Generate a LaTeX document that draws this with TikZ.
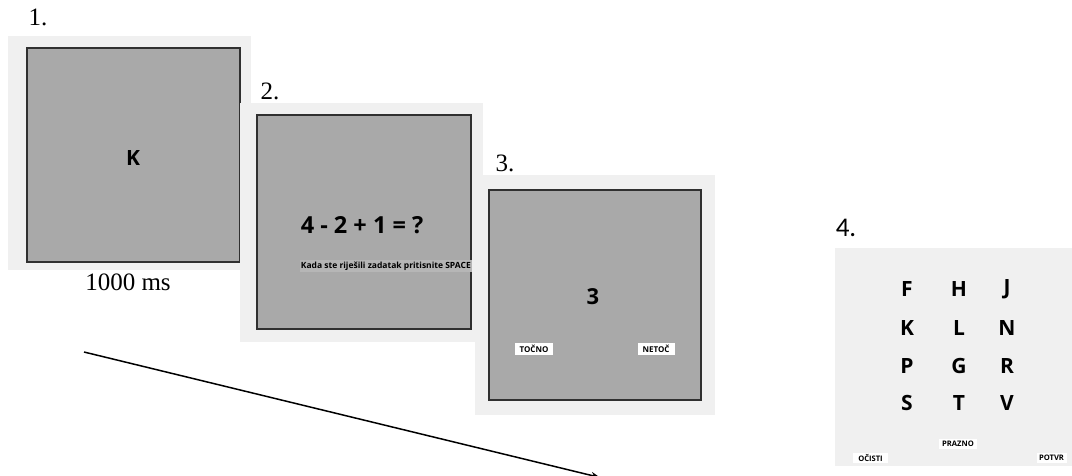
\documentclass[tikz,border=0pt]{standalone}
\usepackage{fontspec}
\setmainfont{Liberation Serif}
\newfontfamily\uisans{Open Sans}
\newfontfamily\calib{Carlito}
\usetikzlibrary{arrows.meta}
\definecolor{outerg}{HTML}{F0F0F0}
\definecolor{innerg}{HTML}{A9A9A9}
\definecolor{edgeg}{HTML}{303030}
\definecolor{hintg}{HTML}{B6B6B6}
\tikzset{
  outerbox/.style={fill=outerg, draw=none},
  innerbox/.style={fill=innerg, draw=edgeg, line width=1.2pt},
  numlabel/.style={font=\fontsize{25}{25}\selectfont, inner sep=0pt},
  bigsans/.style={font=\uisans\bfseries\fontsize{21}{21}\selectfont, inner sep=0pt, text=black},
  btn/.style={fill=white, font=\uisans\bfseries\fontsize{8}{8}\selectfont, inner xsep=2pt, inner ysep=1.5pt, minimum height=12pt},
  smallbtn/.style={fill=white, font=\uisans\bfseries\fontsize{7.6}{7.6}\selectfont, inner xsep=2pt, inner ysep=1pt, minimum height=10pt},
}
\begin{document}
\begin{tikzpicture}[x=1pt,y=-1pt]
\useasboundingbox (0,0) rectangle (1072,475);
\clip (0,0) rectangle (1072,475);
% frame 1
\fill[outerbox] (8,36) rectangle (251,270);
\draw[innerbox] (27,48) rectangle (240,262);
\node[numlabel] (l1) at (38,17) {1.};
\node[bigsans] (k1) at (133,158) {K};
\node[numlabel, fill=white, inner sep=1pt] (t1) at (128,282) {1000 ms};
% frame 2
\fill[outerbox] (240,103) rectangle (483,342);
\draw[innerbox] (257,115) rectangle (471,329);
\node[numlabel] (l2) at (270,91) {2.};
\node[font=\uisans\bfseries\fontsize{23.5}{23.5}\selectfont, inner sep=0pt] (eq) at (362,225) {4 - 2 + 1 = ?};
\node[font=\uisans\bfseries\fontsize{8.5}{8.5}\selectfont, fill=hintg, inner xsep=1pt, inner ysep=1.5pt, anchor=east] (hint) at (472,266) {Kada ste riješili zadatak pritisnite SPACE};
% frame 3
\fill[outerbox] (475,175) rectangle (715,415);
\draw[innerbox] (489,190) rectangle (701,400);
\node[numlabel] (l3) at (505,163) {3.};
\node[font=\uisans\bfseries\fontsize{22}{22}\selectfont, inner sep=0pt] (three) at (593,297) {3};
\node[btn, minimum width=38pt] (tocno) at (534,349) {TOČNO};
\node[btn, minimum width=37pt] (netoc) at (656,349) {NETOČ};
% frame 4
\fill[outerbox] (835,248) rectangle (1072,466);
\node[font=\calib\fontsize{27}{27}\selectfont, inner sep=0pt] (l4) at (846,228) {4.};
\foreach \t/\c/\r in {F/907/289, H/959/289, J/1007/289,
                      K/907/328, L/959/328, N/1007/328,
                      P/907/366, G/959/366, R/1007/366,
                      S/907/403, T/959/403, V/1007/403}
  \node[bigsans] (g\t) at (\c,\r) {\t};
\node[smallbtn, minimum width=38pt] (prazno) at (958,443.5) {PRAZNO};
\node[smallbtn, minimum width=35pt] (ocisti) at (870.5,458) {OČISTI};
\node[smallbtn, minimum width=30pt] (potvr) at (1051.5,458) {POTVR};
% time arrow
\coordinate (ta) at (84,352);
\coordinate (tb) at (600,477.5);
\draw[line width=1.5pt, -{Stealth[length=9pt,width=7pt]}] (ta) -- (tb);
\end{tikzpicture}
\end{document}
